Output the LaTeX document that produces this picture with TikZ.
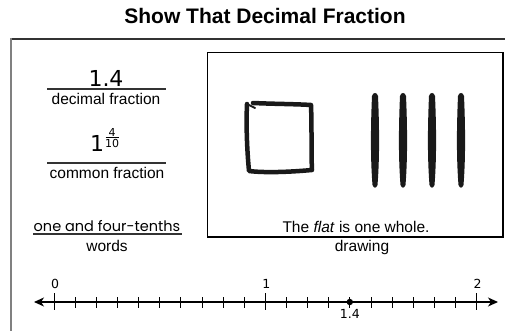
\documentclass[tikz,border=0pt]{standalone}
\usepackage{fontspec}
\setmainfont{Liberation Sans}
\newfontfamily\handfont{Poppins}
\newfontfamily\digitfont{DejaVu Sans}
\usetikzlibrary{arrows.meta}
\begin{document}
\begin{tikzpicture}[x=1pt,y=-1pt,
  lab/.style={font=\fontsize{15.5}{17}\selectfont, inner sep=0pt, anchor=center},
  rule/.style={line width=1.1pt, draw=black!80},
  bigdig/.style={font=\digitfont\fontsize{22}{24}\selectfont, inner sep=0pt},
  smalldig/.style={font=\digitfont\fontsize{11}{12}\selectfont, inner sep=0pt},
  linedig/.style={font=\digitfont\fontsize{12.5}{14}\selectfont, inner sep=0pt},
  tickmin/.style={line width=0.8pt},
  brush/.style={fill=black!90}]
\useasboundingbox (0,0) rectangle (505,331);
% title
\node[font=\fontsize{21}{24}\selectfont\bfseries, inner sep=0pt] (title) at (265,16) {Show That Decimal Fraction};
% outer frame
\draw[line width=1.3pt, draw=black!80] (11,39) -- (506,39);
\draw[line width=2pt, draw=black!50] (11,38.5) -- (11,332);
% left column
\node[bigdig] (dec) at (106,78) {1.4};
\draw[rule] (47,89) -- (166,89);
\node[lab] (declab) at (106,99) {decimal fraction};
\node[bigdig] (com) at (97,143) {1};
\node[smalldig] (num) at (112,132) {4};
\node[smalldig] (den) at (112,143.5) {10};
\draw[line width=0.7pt] (105.5,137.5) -- (118.5,137.5);
\draw[rule] (47,163) -- (166,163);
\node[lab] (comlab) at (107,173) {common fraction};
\node[font=\handfont\fontsize{14.5}{16}\selectfont, inner sep=0pt] (words) at (107,226) {one and four-tenths};
\draw[rule] (33,234) -- (182,234);
\node[lab] (wordlab) at (107,246) {words};
% drawing box
\draw[line width=1.3pt] (207.5,52.5) rectangle (503,237);
\node[lab] (flat) at (356,227) {The \textit{flat} is one whole.};
\node[lab] (drawlab) at (362,247) {drawing};
% brush square
\draw[line width=4.5pt, line join=round, line cap=round, draw=black!90]
  (253,103) .. controls (275,104) and (295,104) .. (311,105)
  .. controls (312,130) and (311,150) .. (312,170)
  .. controls (290,172) and (265,173) .. (249,171)
  .. controls (247,150) and (246,125) .. (247,104);
\draw[line width=2pt, line cap=round, draw=black!90] (247,104) -- (255,108);
% bars
\foreach \bx in {375,403,432,461}{
  \fill[brush] (\bx-3,96) .. controls (\bx-4.5,130) and (\bx-4.5,160) .. (\bx-2.5,185)
    .. controls (\bx-1.2,188.5) and (\bx+1.2,188.5) .. (\bx+2.5,185)
    .. controls (\bx+4.5,160) and (\bx+4.5,130) .. (\bx+3,96)
    .. controls (\bx+2,92) and (\bx-2,92) .. (\bx-3,96);
}
% number line
\draw[line width=1.2pt, {Stealth[length=10pt,width=9pt,inset=3pt]}-{Stealth[length=10pt,width=9pt,inset=3pt]}] (34,302) -- (498,302);
\foreach \i in {0,...,20}{
  \pgfmathsetmacro{\tx}{54+\i*21.13}
  \draw[tickmin] (\tx,297) -- (\tx,308);
}
\foreach \i/\lab in {0/0,10/1,20/2}{
  \pgfmathsetmacro{\tx}{54+\i*21.13}
  \draw[line width=0.9pt] (\tx,293) -- (\tx,310);
  \node[linedig] (n\lab) at (\tx+1,284) {\lab};
}
\fill (349.8,302) circle (3.2pt);
\node[linedig] (pt) at (349.8,314) {1.4};
\end{tikzpicture}
\end{document}
